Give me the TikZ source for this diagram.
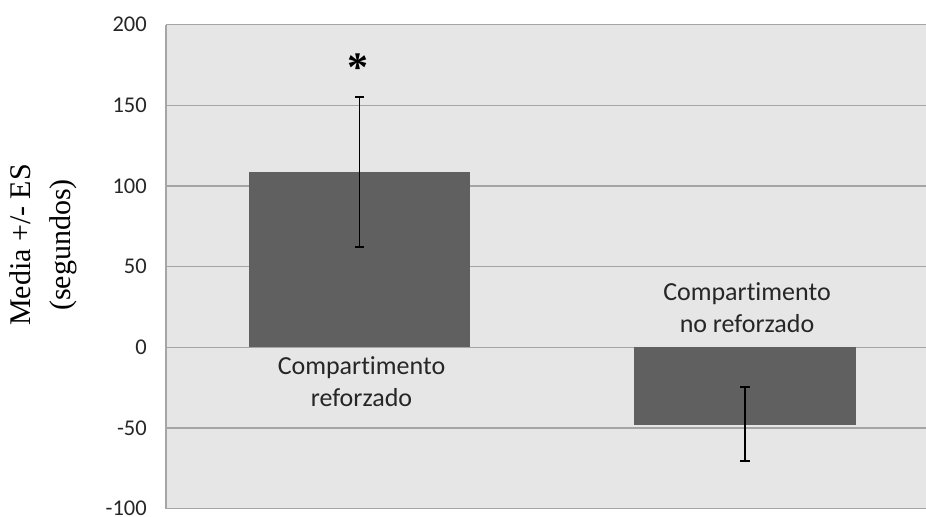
\documentclass[tikz,border=0pt]{standalone}
\usepackage{fontspec}
\setmainfont{Liberation Serif}
\newfontfamily\calib[Ligatures=NoCommon]{Carlito}
\usetikzlibrary{calc}
\definecolor{plotbg}{RGB}{230,230,230}
\definecolor{barfill}{RGB}{96,96,96}
\definecolor{gridgray}{RGB}{165,165,165}

\begin{document}
\begin{tikzpicture}[x=1pt,y=1.613pt,
      bar/.style={fill=barfill,draw=none},
      gridline/.style={draw=gridgray,line width=1.3pt},
      errbar/.style={draw=black,line width=1.8pt},
      ticklbl/.style={anchor=east,inner sep=0pt,text=black!85,font=\calib\fontsize{22.5}{26}\selectfont},
      catlbl/.style={align=center,inner sep=0pt,text=black!85,font=\calib\fontsize{26}{32}\selectfont}]
      \useasboundingbox (0,-105.2) rectangle (926,215.3);
      \fill[plotbg] (166,-100) rectangle (926,200);

      \draw[gridline] (166, 200) -- (926, 200);
      \draw[gridline] (166, 150) -- (926, 150);
      \draw[gridline] (166, 100) -- (926, 100);
      \draw[gridline] (166,  50) -- (926,  50);
      \draw[gridline] (166,   0) -- (926,   0);
      \draw[gridline] (166, -50) -- (926, -50);
      \draw[gridline] (166,-100) -- (926,-100);
      \draw[gridline] (166,-100) -- (166, 200);

      \node[ticklbl] (t200) at (147, 200) {200};
      \node[ticklbl] (t150) at (147, 150) {150};
      \node[ticklbl] (t100) at (147, 100) {100};
      \node[ticklbl] (t50)  at (147,  50) {50};
      \node[ticklbl] (t0)   at (147,   0) {0};
      \node[ticklbl] (tm50) at (147, -50) {-50};
      \node[ticklbl] (tm100) at (147,-100) {-100};

      \fill[bar] (249.3,0) rectangle (470, 108.8);
      \fill[bar] (634,0) rectangle (856, -48);

      \coordinate (e1_lo) at (359.5, 62.2);
      \coordinate (e1_hi) at (359.5, 155.2);
      \draw[errbar] (e1_lo) -- (e1_hi);
      \draw[errbar] ($(e1_lo)+(-4.5,0)$) -- ($(e1_lo)+(4.5,0)$);
      \draw[errbar] ($(e1_hi)+(-4.5,0)$) -- ($(e1_hi)+(4.5,0)$);

      \coordinate (e2_lo) at (745, -70.3);
      \coordinate (e2_hi) at (745, -24.8);
      \draw[errbar] (e2_lo) -- (e2_hi);
      \draw[errbar] ($(e2_lo)+(-5,0)$) -- ($(e2_lo)+(5,0)$);
      \draw[errbar] ($(e2_hi)+(-5,0)$) -- ($(e2_hi)+(5,0)$);

      \node[anchor=base,inner sep=0pt,font=\bfseries\fontsize{42}{46}\selectfont] (star) at (358, 164.5) {*};

      \node[catlbl] (cat1) at (361.5, -21.5) {Compartimento\\reforzado};
      \node[catlbl] (cat2) at (747, 24.7) {Compartimento\\no reforzado};

      \node[rotate=90,align=center,inner sep=0pt,font=\fontsize{30}{40}\selectfont] (ytitle) at (43, 63.4) {Media +/- ES\\(segundos)};
\end{tikzpicture}
\end{document}
